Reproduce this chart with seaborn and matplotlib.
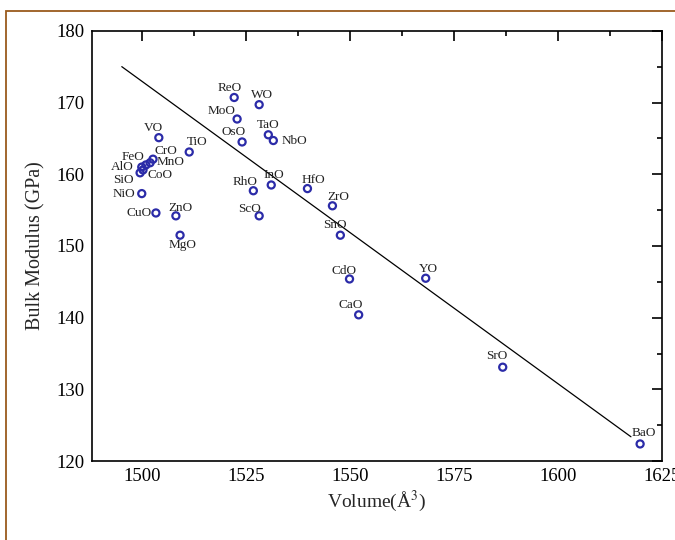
import matplotlib
matplotlib.use("Agg")
import matplotlib.pyplot as plt
from matplotlib.ticker import MultipleLocator
from matplotlib.patches import Rectangle
import seaborn as sns
import pandas as pd

# ---- data ----
compounds = ["ReO", "WO", "MoO", "OsO", "TaO", "NbO", "VO", "TiO", "CrO", "FeO",
             "AlO", "MnO", "CoO", "SiO", "NiO", "CuO", "ZnO", "MgO", "RhO", "InO",
             "ScO", "HfO", "ZrO", "SnO", "CdO", "YO", "CaO", "SrO", "BaO"]
volume = [1522.2, 1528.2, 1522.9, 1524.1, 1530.4, 1531.6, 1504.1, 1511.4, 1502.7, 1501.0,
          1500.0, 1502.0, 1500.3, 1499.6, 1500.0, 1503.4, 1508.2, 1509.2, 1526.8, 1531.1,
          1528.2, 1539.8, 1545.8, 1547.7, 1549.9, 1568.2, 1552.1, 1586.7, 1619.7]
bulk_modulus = [170.7, 169.7, 167.7, 164.5, 165.5, 164.7, 165.1, 163.1, 162.1, 161.3,
                161.0, 161.6, 160.6, 160.2, 157.3, 154.6, 154.2, 151.5, 157.7, 158.5,
                154.2, 158.0, 155.6, 151.5, 145.4, 145.5, 140.4, 133.1, 122.4]
fit_volume = [1495.2, 1617.5]
fit_modulus = [175.0, 123.4]

x_ticks = [1500, 1525, 1550, 1575, 1600, 1625]
y_ticks = [120, 130, 140, 150, 160, 170, 180]

# label offsets (points) relative to each marker: styling only
label_offsets = {
    "ReO": (-3, 7), "WO": (2, 7), "MoO": (-11, 6), "OsO": (-6, 7), "TaO": (0, 7),
    "NbO": (15, 0), "VO": (-4, 7), "TiO": (6, 7), "CrO": (9, 6), "FeO": (-9, 6),
    "AlO": (-14, 0), "MnO": (15, 0.5), "CoO": (12, -4), "SiO": (-12, -5), "NiO": (-13, 0),
    "CuO": (-12, 0), "ZnO": (3, 6), "MgO": (2, -7), "RhO": (-6, 6), "InO": (2, 7),
    "ScO": (-7, 5), "HfO": (4, 6), "ZrO": (4, 6), "SnO": (-4, 7), "CdO": (-4, 6),
    "YO": (2, 7), "CaO": (-6, 7), "SrO": (-4, 8), "BaO": (3, 8),
}

df = pd.DataFrame({"compound": compounds, "volume": volume, "modulus": bulk_modulus})
fit = pd.DataFrame({"volume": fit_volume, "modulus": fit_modulus})

sns.set_theme(style="white")
plt.rcParams["font.family"] = ["Liberation Serif", "DejaVu Serif"]
plt.rcParams["mathtext.fontset"] = "stix"

fig = plt.figure(figsize=(6.75, 5.4), dpi=100)
fig.patch.set_facecolor("white")
ax = fig.add_axes([0.136, 0.146, 0.845, 0.797])

sns.lineplot(data=fit, x="volume", y="modulus", ax=ax, color="black", linewidth=0.9)
sns.scatterplot(data=df, x="volume", y="modulus", ax=ax, marker="o", s=26,
                facecolor="none", edgecolor="#2b2ba8", linewidth=1.6, zorder=3)

for name, vx, vy in zip(compounds, volume, bulk_modulus):
    dx, dy = label_offsets[name]
    ax.annotate(name, (vx, vy), xytext=(dx, dy), textcoords="offset points",
                ha="center", va="center", fontsize=9.5, color="#222222")

ax.set_xlim(1488, 1625)
ax.set_ylim(120, 180)
ax.set_xticks(x_ticks)
ax.set_yticks(y_ticks)
ax.xaxis.set_minor_locator(MultipleLocator(12.5))
ax.yaxis.set_minor_locator(MultipleLocator(5))
ax.tick_params(which="both", direction="in", top=True, right=True, colors="black",
               labelsize=13.5, width=1.2)
ax.tick_params(which="major", length=7, pad=5)
ax.tick_params(which="minor", length=3.5)
for sp in ax.spines.values():
    sp.set_color("black")
    sp.set_linewidth(1.2)

ax.set_xlabel(r"Volume(Å$^3$)", fontsize=14, labelpad=3)
ax.set_ylabel("Bulk Modulus (GPa)", fontsize=14.5, labelpad=8)

# outer brown frame
fig.patches.append(Rectangle((6 / 675, -0.05), 1.2, (540 - 11) / 540 + 0.05,
                             transform=fig.transFigure, fill=False,
                             edgecolor="#9a5a1c", linewidth=1.3))

fig.savefig("out.png", dpi=100)
